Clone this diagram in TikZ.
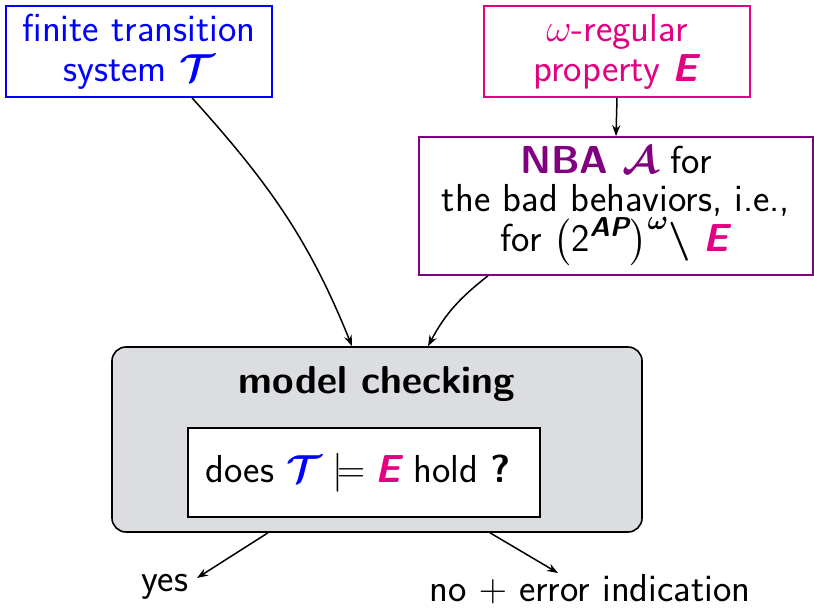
\RequirePackage{fix-cm}
\documentclass[tikz,border=0pt]{standalone}
\usepackage{amsmath,amssymb,bm}
\usetikzlibrary{arrows.meta}
\definecolor{tsblue}{RGB}{0,0,255}
\definecolor{propmag}{RGB}{228,0,130}
\definecolor{nbapurple}{RGB}{128,0,128}
\definecolor{mcgray}{RGB}{220,221,224}
\newcommand{\TS}{\bm{\mathcal{T}}}
\newcommand{\PropE}{\textsf{\bfseries\slshape E}}
\tikzset{
  every node/.style={font=\sffamily\fontsize{39}{40}\selectfont, align=center, inner sep=0pt},
  infobox/.style={draw, line width=1.6pt, minimum width=266pt, minimum height=91pt},
  flow/.style={-{Stealth[length=11pt,width=8pt]}, line width=1.5pt},
}
\begin{document}
\begin{tikzpicture}[x=1pt,y=-1pt]
\useasboundingbox (0,0) rectangle (814,608);

% inputs
\node[infobox, draw=tsblue, text=tsblue] (ts) at (139,51.5)
  {finite transition\\system $\TS$};
\node[infobox, draw=propmag, text=propmag] (prop) at (617,51.5)
  {$\omega$-regular\\property \PropE};
\node[draw=nbapurple, line width=1.6pt, minimum width=394pt, minimum height=138pt,
      font=\sffamily\fontsize{39}{37.5}\selectfont] (nba) at (616,206)
  {{\color{nbapurple}\bfseries NBA $\bm{\mathcal{A}}$} for\\the bad behaviors, i.e.,\\for
   $\bm{\bigl(}\textsf{2}^{\textsf{\bfseries\slshape AP}}\bm{\bigr)}^{\bm{\omega}}\mathbin{\bm{\backslash}}$ {\color{propmag}\PropE}};

% model checking block
\node[draw=black, fill=mcgray, line width=1.6pt, rounded corners=14pt,
      minimum width=530pt, minimum height=185pt] (mc) at (377,439.5) {};
\node[font=\sffamily\bfseries\fontsize{39}{40}\selectfont] (mctitle) at (377,384) {model checking};
\node[draw=black, fill=white, line width=1.6pt, minimum width=352pt, minimum height=89pt] (query) at (364,472.5)
  {does ${\color{tsblue}\TS}\models{\color{propmag}\PropE}$ hold \textbf{?}\hspace*{12pt}};

% outcomes
\node (yes) at (165,587) {yes};
\node (no) at (590,589) {no $+$ error indication};

% connector end points
\coordinate (tsout) at ([xshift=53pt]ts.south);
\coordinate (nbaout) at ([xshift=-128pt]nba.south);
\coordinate (mcinl) at ([xshift=-25pt]mc.north);
\coordinate (mcinr) at ([xshift=51pt]mc.north);
\coordinate (mcoutl) at ([xshift=-109pt]mc.south);
\coordinate (mcoutr) at ([xshift=113pt]mc.south);
\coordinate (yestip) at (197,578);
\coordinate (notip) at (558,573);

\draw[flow] (prop.south) -- (nba.north);
\draw[flow] (tsout) to[out=-48,in=112] (mcinl);
\draw[flow] (nbaout) to[out=-142,in=62] (mcinr);
\draw[flow] (mcoutl) -- (yestip);
\draw[flow] (mcoutr) -- (notip);
\end{tikzpicture}
\end{document}
